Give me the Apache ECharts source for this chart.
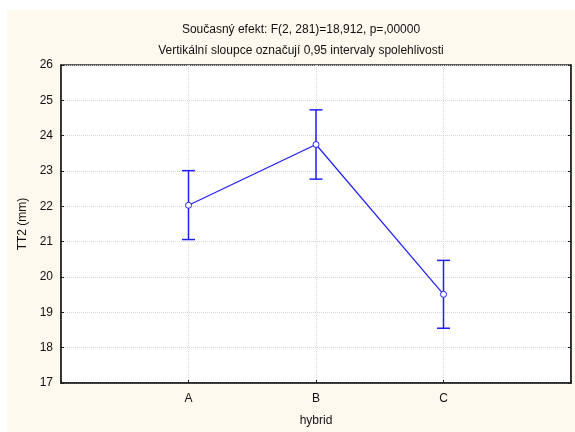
<!DOCTYPE html>
<html>
<head>
<meta charset="utf-8">
<script src="https://cdn.jsdelivr.net/npm/echarts@6/dist/echarts.min.js"></script>
<style>
  html, body { margin: 0; padding: 0; background: #fff; }
  #chart { width: 575px; height: 432px; }
</style>
</head>
<body>
<div id="chart"></div>
<script>
const categories = ['A', 'B', 'C'];
const means = [22.03, 23.75, 19.51];
const lower = [21.06, 22.77, 18.55];
const upper = [23.01, 24.73, 20.47];
const yTicks = [17, 18, 19, 20, 21, 22, 23, 24, 25, 26];

const blue = '#1f1fff';
const font = 'Liberation Sans, Arial, sans-serif';

const chart = echarts.init(document.getElementById('chart'));

// x positions 1..3 on a 0..4 value axis, so the points sit at the quarter marks
const linePoints = means.map((m, i) => [i + 1, m]);
const barData = means.map((m, i) => [i + 1, lower[i], upper[i]]);

const option = {
  backgroundColor: '#fff',
  animation: false,
  graphic: [{
    type: 'rect',
    z: -10,
    shape: { x: 7, y: 10, width: 568, height: 422 },
    style: { fill: '#fdf9ee' },
    silent: true
  }],
  title: [
    {
      text: 'Současný efekt: F(2, 281)=18,912, p=,00000',
      left: 296, top: 19, textAlign: 'center',
      textStyle: { fontFamily: font, fontSize: 12, fontWeight: 'normal', color: '#111' }
    },
    {
      text: 'Vertikální sloupce označují 0,95 intervaly spolehlivosti',
      left: 296, top: 40, textAlign: 'center',
      textStyle: { fontFamily: font, fontSize: 12, fontWeight: 'normal', color: '#111' }
    }
  ],
  grid: {
    left: 61, right: 4, top: 65, bottom: 48,
    show: true, backgroundColor: '#fff', borderColor: '#222', borderWidth: 1.5
  },
  xAxis: {
    type: 'value', min: 0, max: 4, interval: 1,
    name: 'hybrid', nameLocation: 'middle', nameGap: 32,
    nameTextStyle: { fontFamily: font, fontSize: 12, color: '#111' },
    axisLine: { show: true, lineStyle: { color: '#222', width: 1.5 } },
    axisTick: { show: true, inside: true, length: 3, lineStyle: { color: '#222' } },
    axisLabel: {
      fontFamily: font, fontSize: 12, color: '#111', margin: 10,
      formatter: v => categories[v - 1] || ''
    },
    splitLine: { show: true, lineStyle: { color: '#d6d6d6', type: 'dotted' } }
  },
  yAxis: [
    {
      type: 'value', min: yTicks[0], max: yTicks[yTicks.length - 1], interval: 1,
      name: 'TT2 (mm)', nameLocation: 'middle', nameGap: 29, nameRotate: 90,
      nameTextStyle: { fontFamily: font, fontSize: 12, color: '#111' },
      axisLine: { show: true, lineStyle: { color: '#222', width: 1.5 } },
      axisTick: { show: true, inside: true, length: 3, lineStyle: { color: '#222' } },
      axisLabel: { fontFamily: font, fontSize: 12, color: '#111', margin: 8 },
      splitLine: { show: true, lineStyle: { color: '#d6d6d6', type: 'dotted' } }
    },
    {
      type: 'value', position: 'right', min: yTicks[0], max: yTicks[yTicks.length - 1], interval: 1,
      axisLine: { show: true, lineStyle: { color: '#222', width: 1.5 } },
      axisTick: { show: true, inside: true, length: 3, lineStyle: { color: '#222' } },
      axisLabel: { show: false },
      splitLine: { show: false }
    }
  ],
  series: [
    {
      type: 'custom',
      data: barData,
      z: 2,
      renderItem: (params, api) => {
        const x = api.value(0);
        const lo = api.coord([x, api.value(1)]);
        const hi = api.coord([x, api.value(2)]);
        const half = 6.5;
        const style = { stroke: blue, lineWidth: 1.5, fill: null };
        return {
          type: 'group',
          children: [
            { type: 'line', shape: { x1: lo[0], y1: lo[1], x2: hi[0], y2: hi[1] }, style },
            { type: 'line', shape: { x1: lo[0] - half, y1: lo[1], x2: lo[0] + half, y2: lo[1] }, style },
            { type: 'line', shape: { x1: hi[0] - half, y1: hi[1], x2: hi[0] + half, y2: hi[1] }, style }
          ]
        };
      }
    },
    {
      type: 'line',
      data: linePoints,
      z: 3,
      symbol: 'circle',
      symbolSize: 6,
      lineStyle: { color: blue, width: 1.2 },
      itemStyle: { color: '#fff', borderColor: blue, borderWidth: 1 }
    }
  ]
};

chart.setOption(option);
</script>
</body>
</html>
